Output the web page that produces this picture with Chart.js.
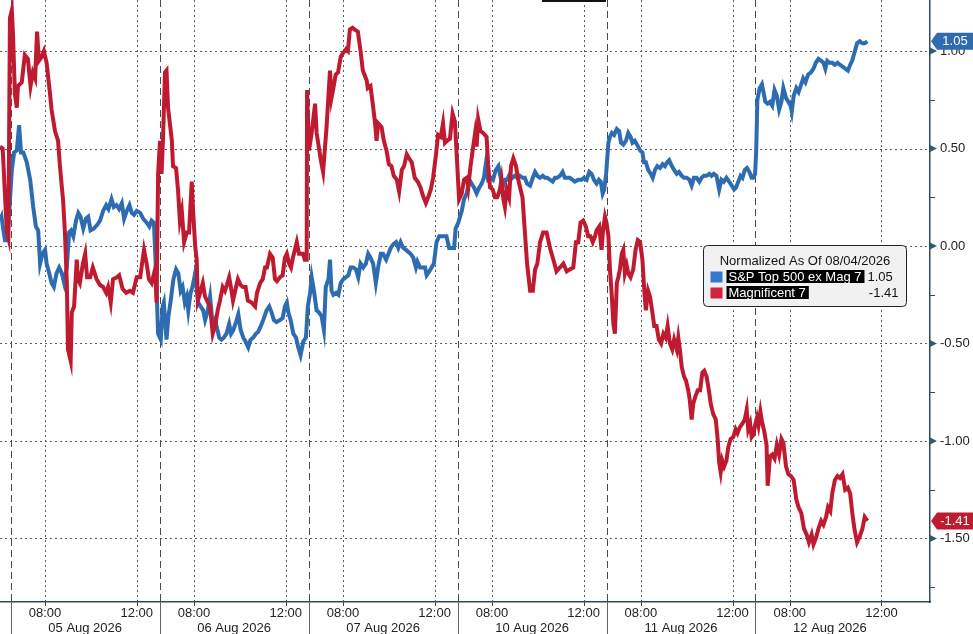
<!DOCTYPE html>
<html>
<head>
<meta charset="utf-8">
<script src="https://cdn.jsdelivr.net/npm/chart.js@4.4.1/dist/chart.umd.min.js"></script>
<style>
  html, body { margin: 0; padding: 0; background: #fff; overflow: hidden; }
  canvas { display: block; }
</style>
</head>
<body>
<canvas id="chart" width="973" height="634"></canvas>
<script>
// x = trading minutes since 04 Aug 06:30 (each session 06:30-13:00 = 390 min)
const SESSION = 390;
const X_MIN = 362, X_MAX = 2797;
const Y_MIN = -1.826, Y_MAX = 1.262;

const dayLabels = ['05 Aug 2026', '06 Aug 2026', '07 Aug 2026', '10 Aug 2026', '11 Aug 2026', '12 Aug 2026'];
const timeTickMinutes = [90, 330];
const timeTickLabels = ['08:00', '12:00'];
const yTicks = [-1.5, -1, -0.5, 0, 0.5, 1];
const yMinorTicks = [-1.75, -1.25, -0.75, -0.25, 0.25, 0.75];

const legendTitle = 'Normalized As Of 08/04/2026';
const seriesNames = ['S&P Top 500 ex Mag 7', 'Magnificent 7'];

// [minute, value]
const sp500xMag7 = [
  [362,0.13],[366,0.15],[371,0.08],[375,0.03],[381,0.03],[386,0.17],[393,0.39],[399,0.48],[406,0.49],[412,0.62],
  [417,0.48],[423,0.48],[432,0.43],[441,0.34],[449,0.20],[456,0.10],[462,0.08],[467,-0.09],[473,-0.04],[480,-0.02],
  [484,-0.09],[491,-0.14],[497,-0.19],[503,-0.21],[510,-0.14],[517,-0.11],[524,-0.14],[530,-0.19],[537,-0.11],[543,0.07],
  [548,0.08],[554,0.05],[561,0.13],[567,0.17],[573,0.15],[580,0.09],[587,0.14],[593,0.15],[599,0.08],[608,0.09],
  [617,0.11],[624,0.13],[632,0.18],[640,0.21],[646,0.19],[654,0.24],[660,0.20],[667,0.21],[674,0.19],[681,0.22],
  [687,0.14],[694,0.18],[701,0.21],[707,0.17],[713,0.16],[720,0.18],[729,0.17],[737,0.14],[746,0.12],[753,0.10],
  [759,0.13],[765,0.12],[770,-0.11],[776,-0.45],[783,-0.48],[788,-0.31],[791,-0.29],[798,-0.48],[803,-0.36],[809,-0.28],
  [816,-0.17],[823,-0.12],[829,-0.14],[835,-0.23],[840,-0.21],[846,-0.29],[851,-0.26],[855,-0.33],[861,-0.24],[866,-0.21],
  [873,-0.14],[881,-0.29],[887,-0.31],[894,-0.33],[899,-0.38],[905,-0.34],[912,-0.26],[919,-0.41],[925,-0.38],[929,-0.41],
  [936,-0.47],[942,-0.48],[948,-0.47],[955,-0.45],[962,-0.40],[967,-0.45],[973,-0.43],[980,-0.39],[986,-0.35],[992,-0.43],
  [999,-0.47],[1005,-0.49],[1012,-0.52],[1018,-0.48],[1025,-0.47],[1032,-0.45],[1038,-0.44],[1045,-0.41],[1051,-0.38],[1060,-0.33],
  [1067,-0.31],[1073,-0.34],[1079,-0.38],[1086,-0.39],[1095,-0.38],[1102,-0.37],[1108,-0.31],[1113,-0.29],[1117,-0.34],[1123,-0.38],
  [1130,-0.45],[1137,-0.47],[1143,-0.52],[1149,-0.56],[1156,-0.49],[1163,-0.47],[1168,-0.31],[1174,-0.24],[1178,-0.16],[1184,-0.23],
  [1191,-0.33],[1197,-0.34],[1204,-0.36],[1210,-0.43],[1215,-0.21],[1222,-0.17],[1226,-0.07],[1230,-0.23],[1235,-0.25],[1242,-0.24],
  [1248,-0.25],[1254,-0.19],[1261,-0.17],[1268,-0.16],[1274,-0.15],[1280,-0.11],[1287,-0.11],[1294,-0.12],[1300,-0.16],[1306,-0.09],
  [1313,-0.11],[1320,-0.09],[1326,-0.04],[1332,-0.06],[1339,-0.09],[1346,-0.19],[1352,-0.11],[1359,-0.04],[1365,-0.04],[1373,-0.07],
  [1379,-0.04],[1385,-0.01],[1392,0.01],[1399,0.02],[1405,-0.01],[1411,0.02],[1418,-0.01],[1425,-0.02],[1431,-0.03],[1437,-0.04],
  [1444,-0.06],[1451,-0.11],[1455,-0.08],[1462,-0.11],[1469,-0.11],[1475,-0.11],[1479,-0.15],[1486,-0.13],[1492,-0.11],[1498,-0.09],
  [1505,0.02],[1512,0.05],[1518,0.05],[1524,0.05],[1531,0.05],[1538,-0.01],[1545,-0.01],[1551,-0.01],[1555,0.09],[1562,0.12],
  [1571,0.18],[1577,0.24],[1584,0.27],[1591,0.34],[1597,0.32],[1603,0.30],[1610,0.27],[1617,0.30],[1623,0.32],[1629,0.35],
  [1634,0.42],[1640,0.34],[1647,0.35],[1653,0.34],[1660,0.39],[1667,0.41],[1673,0.35],[1678,0.30],[1684,0.34],[1690,0.34],
  [1697,0.37],[1704,0.35],[1710,0.36],[1716,0.35],[1723,0.36],[1730,0.35],[1736,0.35],[1742,0.32],[1750,0.31],[1757,0.35],
  [1763,0.38],[1769,0.36],[1776,0.35],[1783,0.36],[1789,0.35],[1795,0.35],[1802,0.34],[1809,0.33],[1815,0.35],[1821,0.35],
  [1828,0.36],[1835,0.38],[1841,0.35],[1847,0.35],[1854,0.35],[1861,0.34],[1867,0.33],[1876,0.34],[1885,0.34],[1891,0.35],
  [1898,0.34],[1905,0.38],[1911,0.37],[1917,0.34],[1924,0.32],[1930,0.34],[1935,0.33],[1940,0.27],[1944,0.29],[1949,0.37],
  [1955,0.53],[1959,0.56],[1964,0.58],[1970,0.57],[1977,0.60],[1983,0.59],[1988,0.53],[1994,0.52],[2001,0.54],[2007,0.58],
  [2013,0.56],[2018,0.53],[2024,0.54],[2030,0.52],[2038,0.49],[2044,0.48],[2048,0.43],[2053,0.43],[2059,0.39],[2066,0.37],
  [2071,0.35],[2077,0.39],[2083,0.41],[2090,0.40],[2097,0.42],[2103,0.41],[2109,0.43],[2114,0.44],[2121,0.41],[2127,0.39],
  [2134,0.37],[2140,0.38],[2147,0.36],[2153,0.35],[2160,0.35],[2167,0.34],[2173,0.31],[2179,0.35],[2186,0.35],[2193,0.33],
  [2199,0.35],[2205,0.36],[2212,0.36],[2219,0.37],[2225,0.36],[2231,0.37],[2238,0.36],[2245,0.29],[2251,0.34],[2257,0.33],
  [2264,0.35],[2271,0.33],[2278,0.31],[2284,0.29],[2289,0.30],[2295,0.33],[2301,0.36],[2306,0.35],[2312,0.39],[2318,0.40],
  [2324,0.38],[2330,0.35],[2334,0.35],[2339,0.37],[2342,0.49],[2345,0.75],[2351,0.81],[2357,0.83],[2361,0.79],[2366,0.74],
  [2372,0.73],[2378,0.74],[2384,0.72],[2390,0.80],[2396,0.77],[2402,0.70],[2408,0.74],[2413,0.81],[2420,0.76],[2426,0.74],
  [2432,0.72],[2435,0.69],[2440,0.77],[2447,0.81],[2453,0.79],[2460,0.83],[2465,0.86],[2471,0.84],[2478,0.88],[2485,0.89],
  [2492,0.91],[2498,0.94],[2505,0.96],[2512,0.95],[2518,0.94],[2523,0.91],[2528,0.95],[2534,0.94],[2541,0.94],[2548,0.93],
  [2555,0.94],[2561,0.93],[2568,0.92],[2575,0.91],[2582,0.90],[2588,0.93],[2593,0.95],[2599,0.99],[2606,1.04],[2613,1.05],
  [2620,1.04],[2626,1.04],[2633,1.05]
];

const mag7 = [
  [362,0.51],[369,0.50],[380,0.07],[384,0.04],[388,1.17],[393,1.21],[396,1.09],[401,0.78],[406,0.71],[409,0.82],
  [419,0.84],[427,0.98],[435,0.96],[442,0.82],[448,0.89],[454,0.86],[459,1.10],[464,0.95],[471,0.97],[477,1.00],
  [484,0.94],[493,0.78],[497,0.70],[506,0.59],[514,0.54],[519,0.41],[524,0.30],[527,0.24],[532,0.07],[537,-0.19],
  [540,-0.53],[547,-0.59],[550,-0.34],[556,-0.31],[563,-0.07],[566,-0.17],[571,-0.19],[579,-0.09],[585,-0.04],[590,-0.16],
  [598,-0.16],[605,-0.11],[615,-0.17],[624,-0.20],[632,-0.21],[640,-0.24],[645,-0.21],[652,-0.29],[658,-0.17],[668,-0.16],
  [674,-0.15],[683,-0.22],[692,-0.24],[702,-0.23],[710,-0.24],[720,-0.16],[729,-0.16],[739,-0.02],[746,-0.09],[752,-0.17],
  [759,-0.19],[768,-0.12],[772,-0.29],[776,0.37],[781,0.54],[785,0.37],[789,0.56],[794,0.89],[798,0.90],[802,0.71],
  [812,0.54],[815,0.41],[823,0.40],[828,0.29],[833,0.13],[838,0.18],[844,0.02],[851,0.07],[857,0.07],[864,0.33],
  [867,0.20],[873,0.00],[877,-0.07],[880,-0.28],[886,-0.24],[893,-0.19],[899,-0.26],[904,-0.28],[912,-0.31],[919,-0.45],
  [925,-0.41],[932,-0.33],[938,-0.28],[945,-0.21],[951,-0.23],[956,-0.20],[962,-0.16],[969,-0.24],[972,-0.28],[980,-0.21],
  [985,-0.17],[992,-0.20],[998,-0.21],[1005,-0.21],[1011,-0.28],[1021,-0.29],[1030,-0.31],[1035,-0.24],[1043,-0.19],[1050,-0.17],
  [1056,-0.11],[1061,-0.11],[1069,-0.04],[1076,-0.06],[1082,-0.17],[1087,-0.18],[1095,-0.16],[1102,-0.15],[1108,-0.06],[1113,-0.04],
  [1119,-0.09],[1124,-0.11],[1129,-0.06],[1139,0.02],[1145,-0.04],[1155,-0.04],[1160,-0.07],[1165,-0.07],[1166,0.80],[1171,0.49],
  [1178,0.58],[1187,0.73],[1191,0.58],[1195,0.53],[1202,0.44],[1208,0.38],[1217,0.61],[1226,0.90],[1230,0.76],[1234,0.80],
  [1241,0.88],[1247,0.89],[1254,0.97],[1260,0.99],[1268,1.01],[1273,1.00],[1278,1.11],[1285,1.12],[1291,1.11],[1299,1.10],
  [1306,1.00],[1312,0.90],[1322,0.85],[1325,0.81],[1332,0.82],[1338,0.73],[1344,0.63],[1348,0.54],[1352,0.63],[1361,0.61],
  [1367,0.54],[1374,0.49],[1380,0.42],[1387,0.41],[1393,0.36],[1401,0.34],[1407,0.28],[1414,0.39],[1420,0.41],[1427,0.47],
  [1433,0.45],[1440,0.43],[1448,0.35],[1456,0.33],[1463,0.30],[1469,0.26],[1477,0.22],[1483,0.25],[1490,0.29],[1496,0.35],
  [1503,0.46],[1509,0.57],[1516,0.56],[1522,0.63],[1527,0.53],[1532,0.54],[1540,0.55],[1547,0.68],[1553,0.64],[1558,0.46],
  [1564,0.24],[1571,0.27],[1577,0.34],[1584,0.35],[1588,0.30],[1594,0.41],[1601,0.51],[1606,0.58],[1610,0.51],[1614,0.65],
  [1620,0.59],[1627,0.58],[1636,0.56],[1640,0.42],[1645,0.30],[1652,0.29],[1658,0.25],[1664,0.25],[1671,0.29],[1675,0.34],
  [1680,0.24],[1684,0.20],[1689,0.29],[1695,0.25],[1700,0.41],[1706,0.45],[1713,0.41],[1719,0.34],[1725,0.29],[1730,0.25],
  [1736,0.08],[1742,-0.09],[1750,-0.23],[1757,-0.23],[1763,-0.12],[1769,-0.09],[1776,0.02],[1784,0.07],[1793,0.07],[1802,-0.01],
  [1811,-0.07],[1819,-0.13],[1828,-0.11],[1837,-0.09],[1846,-0.13],[1854,-0.12],[1863,-0.11],[1870,0.02],[1876,0.02],[1882,0.12],
  [1889,0.13],[1896,0.10],[1902,0.05],[1908,0.05],[1914,0.02],[1920,0.05],[1924,0.08],[1931,0.10],[1937,-0.02],[1941,0.08],
  [1946,0.15],[1950,0.12],[1955,0.05],[1959,-0.12],[1964,-0.26],[1968,-0.40],[1972,-0.45],[1977,-0.19],[1981,-0.16],[1985,-0.12],
  [1990,-0.04],[1994,-0.02],[1998,-0.14],[2003,-0.10],[2007,-0.14],[2013,-0.16],[2020,-0.12],[2026,-0.02],[2032,0.03],[2038,0.02],
  [2044,-0.07],[2049,-0.23],[2053,-0.33],[2059,-0.23],[2064,-0.26],[2070,-0.34],[2075,-0.41],[2081,-0.41],[2087,-0.48],[2093,-0.50],
  [2099,-0.45],[2105,-0.47],[2110,-0.41],[2116,-0.50],[2122,-0.53],[2127,-0.48],[2134,-0.53],[2138,-0.47],[2142,-0.53],[2147,-0.62],
  [2153,-0.67],[2158,-0.69],[2164,-0.74],[2168,-0.79],[2173,-0.89],[2177,-0.81],[2183,-0.77],[2189,-0.74],[2195,-0.74],[2201,-0.65],
  [2206,-0.64],[2212,-0.67],[2218,-0.74],[2223,-0.81],[2229,-0.86],[2236,-0.89],[2241,-0.99],[2245,-1.11],[2249,-1.16],[2253,-1.10],
  [2258,-1.13],[2264,-1.10],[2269,-1.03],[2275,-0.99],[2282,-0.98],[2288,-0.94],[2293,-0.96],[2299,-0.93],[2306,-0.91],[2312,-0.89],
  [2317,-0.84],[2321,-0.94],[2326,-0.91],[2330,-0.98],[2334,-0.97],[2339,-0.92],[2344,-0.88],[2348,-0.92],[2353,-0.85],[2357,-0.90],
  [2363,-0.95],[2369,-1.02],[2372,-1.23],[2378,-1.08],[2384,-1.07],[2390,-1.09],[2396,-1.02],[2402,-1.07],[2408,-0.99],[2413,-1.01],
  [2420,-1.13],[2426,-1.17],[2433,-1.18],[2440,-1.20],[2447,-1.30],[2453,-1.34],[2460,-1.37],[2467,-1.45],[2474,-1.48],[2480,-1.52],
  [2487,-1.48],[2492,-1.53],[2498,-1.50],[2505,-1.45],[2512,-1.41],[2518,-1.43],[2525,-1.39],[2530,-1.34],[2536,-1.36],[2541,-1.27],
  [2548,-1.20],[2555,-1.18],[2561,-1.19],[2568,-1.17],[2575,-1.25],[2582,-1.24],[2588,-1.27],[2593,-1.36],[2599,-1.45],[2606,-1.52],
  [2613,-1.49],[2620,-1.45],[2626,-1.39],[2633,-1.41]
];

const BLUE = '#2e6cb2';
const RED = '#bf1a30';
const AXIS = '#33495c';
const FONT = '"Liberation Sans", Arial, sans-serif';

Chart.defaults.font.family = FONT;
Chart.defaults.font.size = 13;
Chart.defaults.color = '#222';

function toPoints(arr) {
  return arr.map(p => ({ x: p[0], y: p[1] }));
}

function lastValue(arr) {
  return arr[arr.length - 1][1];
}

function roundRect(ctx, x, y, w, h, r) {
  ctx.beginPath();
  ctx.moveTo(x + r, y);
  ctx.arcTo(x + w, y, x + w, y + h, r);
  ctx.arcTo(x + w, y + h, x, y + h, r);
  ctx.arcTo(x, y + h, x, y, r);
  ctx.arcTo(x, y, x + w, y, r);
  ctx.closePath();
}

function drawTag(ctx, left, py, text, color) {
  const w = 42, h = 17, tip = 6;
  ctx.fillStyle = color;
  ctx.beginPath();
  ctx.moveTo(left, py);
  ctx.lineTo(left + tip, py - h / 2);
  ctx.lineTo(left + w, py - h / 2);
  ctx.lineTo(left + w, py + h / 2);
  ctx.lineTo(left + tip, py + h / 2);
  ctx.closePath();
  ctx.fill();
  ctx.fillStyle = '#fff';
  ctx.font = '13px ' + FONT;
  ctx.textAlign = 'center';
  ctx.textBaseline = 'middle';
  ctx.fillText(text, left + tip + (w - tip) / 2, py + 0.5);
}

// grid, day separators, extra axis marks, value tags and legend box
const overlay = {
  id: 'overlay',
  beforeDatasetsDraw(chart) {
    const { ctx, chartArea: a, scales: { x, y } } = chart;
    ctx.save();
    ctx.lineWidth = 1;
    ctx.strokeStyle = '#5a5a5a';
    ctx.setLineDash([2, 3]);
    yTicks.forEach(v => {
      const py = Math.round(y.getPixelForValue(v)) + 0.5;
      ctx.beginPath(); ctx.moveTo(a.left, py); ctx.lineTo(a.right, py); ctx.stroke();
    });
    x.ticks.forEach(t => {
      const px = Math.round(x.getPixelForValue(t.value)) + 0.5;
      ctx.beginPath(); ctx.moveTo(px, a.top); ctx.lineTo(px, a.bottom); ctx.stroke();
    });
    ctx.strokeStyle = '#4a4a4a';
    ctx.setLineDash([7, 4]);
    for (let k = 1; k <= dayLabels.length; k++) {
      const px = Math.round(x.getPixelForValue(k * SESSION)) + 0.5;
      ctx.beginPath(); ctx.moveTo(px, a.top); ctx.lineTo(px, a.bottom); ctx.stroke();
    }
    ctx.restore();
  },
  afterDraw(chart) {
    const { ctx, chartArea: a, scales: { x, y } } = chart;
    const H = chart.height;
    ctx.save();

    // day separators and date labels under the axis
    ctx.strokeStyle = '#666';
    ctx.lineWidth = 1;
    for (let k = 1; k <= dayLabels.length; k++) {
      const px = Math.round(x.getPixelForValue(k * SESSION)) + 0.5;
      ctx.beginPath(); ctx.moveTo(px, a.bottom); ctx.lineTo(px, H); ctx.stroke();
    }
    ctx.strokeStyle = AXIS;
    x.ticks.forEach(t => {
      const px = Math.round(x.getPixelForValue(t.value)) + 0.5;
      ctx.beginPath(); ctx.moveTo(px, a.bottom); ctx.lineTo(px, a.bottom + 4); ctx.stroke();
    });
    ctx.fillStyle = '#222';
    ctx.font = '13px ' + FONT;
    ctx.textAlign = 'center';
    ctx.textBaseline = 'middle';
    dayLabels.forEach((lbl, i) => {
      const px = x.getPixelForValue((i + 1) * SESSION + SESSION / 2);
      ctx.fillText(lbl, px, H - 6);
    });

    // right axis minor ticks and major markers
    ctx.strokeStyle = AXIS;
    yMinorTicks.forEach(v => {
      const py = Math.round(y.getPixelForValue(v)) + 0.5;
      ctx.beginPath(); ctx.moveTo(a.right, py); ctx.lineTo(a.right + 5, py); ctx.stroke();
    });
    ctx.fillStyle = '#2b5d77';
    yTicks.forEach(v => {
      const py = y.getPixelForValue(v);
      ctx.beginPath();
      ctx.moveTo(a.right, py - 3.5);
      ctx.lineTo(a.right + 7, py);
      ctx.lineTo(a.right, py + 3.5);
      ctx.closePath();
      ctx.fill();
    });

    // last value tags
    drawTag(ctx, a.right + 1, y.getPixelForValue(lastValue(sp500xMag7)), lastValue(sp500xMag7).toFixed(2), BLUE);
    drawTag(ctx, a.right + 1, y.getPixelForValue(lastValue(mag7)), lastValue(mag7).toFixed(2), RED);

    // legend box
    const lx = 703.5, ly = 245.5, lw = 203, lh = 61;
    roundRect(ctx, lx, ly, lw, lh, 4);
    ctx.fillStyle = '#f1f1f1';
    ctx.fill();
    ctx.strokeStyle = '#222';
    ctx.lineWidth = 1;
    ctx.stroke();
    ctx.fillStyle = '#111';
    ctx.font = '13px ' + FONT;
    ctx.textAlign = 'center';
    ctx.textBaseline = 'middle';
    ctx.fillText(legendTitle, lx + lw / 2, ly + 16);

    const rows = [
      { name: seriesNames[0], color: '#3479cc', value: lastValue(sp500xMag7).toFixed(2), right: false },
      { name: seriesNames[1], color: '#d0223d', value: lastValue(mag7).toFixed(2), right: true }
    ];
    rows.forEach((r, i) => {
      const cy = ly + 31 + i * 16;
      ctx.fillStyle = r.color;
      ctx.fillRect(lx + 7, cy - 5, 12, 11);
      ctx.font = '13px ' + FONT;
      const tw = ctx.measureText(r.name).width;
      ctx.fillStyle = '#000';
      ctx.fillRect(lx + 23, cy - 6.5, tw + 5, 13);
      ctx.fillStyle = '#fff';
      ctx.textAlign = 'left';
      ctx.fillText(r.name, lx + 25, cy + 0.5);
      ctx.fillStyle = '#111';
      if (r.right) {
        ctx.textAlign = 'right';
        ctx.fillText(r.value, lx + lw - 8, cy + 0.5);
      } else {
        ctx.textAlign = 'left';
        ctx.fillText(r.value, lx + 23 + tw + 8, cy + 0.5);
      }
    });

    // fragment of header bar at the top edge
    ctx.fillStyle = '#111';
    ctx.fillRect(542, 0, 64, 2);

    ctx.restore();
  }
};

new Chart(document.getElementById('chart'), {
  type: 'line',
  data: {
    datasets: [
      {
        label: seriesNames[1],
        data: toPoints(mag7),
        borderColor: RED,
        borderWidth: 4,
        pointRadius: 0,
        tension: 0,
        order: 0
      },
      {
        label: seriesNames[0],
        data: toPoints(sp500xMag7),
        borderColor: BLUE,
        borderWidth: 4,
        pointRadius: 0,
        tension: 0,
        order: 1
      }
    ]
  },
  options: {
    responsive: false,
    animation: false,
    events: [],
    layout: { padding: 0 },
    plugins: {
      legend: { display: false },
      tooltip: { enabled: false }
    },
    scales: {
      x: {
        type: 'linear',
        position: 'bottom',
        min: X_MIN,
        max: X_MAX,
        afterBuildTicks: s => {
          const ticks = [];
          for (let k = 1; k <= dayLabels.length; k++) {
            timeTickMinutes.forEach(m => ticks.push({ value: k * SESSION + m }));
          }
          s.ticks = ticks;
        },
        ticks: {
          autoSkip: false,
          maxRotation: 0,
          padding: 4,
          color: '#222',
          font: { size: 13 },
          callback: v => timeTickLabels[timeTickMinutes.indexOf(((v % SESSION) + SESSION) % SESSION)]
        },
        grid: { display: false, drawTicks: false },
        border: { display: true, color: AXIS, width: 1.5 },
        afterFit: s => { s.height = 32; s.paddingLeft = 0; s.paddingRight = 0; }
      },
      y: {
        position: 'right',
        min: Y_MIN,
        max: Y_MAX,
        afterBuildTicks: s => { s.ticks = yTicks.map(v => ({ value: v })); },
        ticks: {
          padding: 10,
          color: '#222',
          font: { size: 13 },
          callback: v => v.toFixed(2)
        },
        grid: { display: false, drawTicks: false },
        border: { display: true, color: AXIS, width: 1.5 },
        afterFit: s => { s.width = 43; s.paddingTop = 0; s.paddingBottom = 0; }
      }
    }
  },
  plugins: [overlay]
});
</script>
</body>
</html>
